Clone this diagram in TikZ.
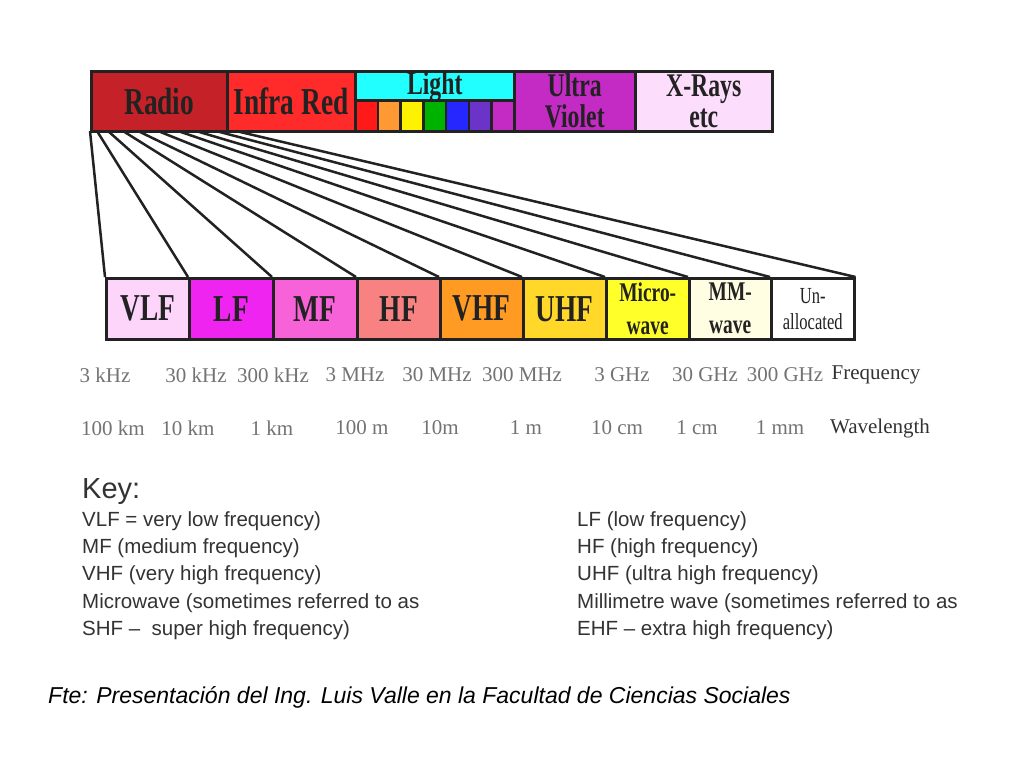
\documentclass[tikz,border=0pt]{standalone}
\usepackage{fontspec}
\setmainfont{Liberation Serif}
\newfontfamily\barfont[FakeStretch=0.72]{Liberation Serif}
\newfontfamily\keyfont{Liberation Sans}
\newfontfamily\scalefont{Liberation Serif}
\usepackage{xcolor}

\definecolor{radioc}{HTML}{C42228}
\definecolor{irc}{HTML}{FF2A2A}
\definecolor{lightc}{HTML}{22FFFF}
\definecolor{uvc}{HTML}{C42AC4}
\definecolor{xrayc}{HTML}{FCDDFC}
\definecolor{vlfc}{HTML}{FDD4FA}
\definecolor{lfc}{HTML}{F024F0}
\definecolor{mfc}{HTML}{F862D8}
\definecolor{hfc}{HTML}{F88282}
\definecolor{vhfc}{HTML}{FF9A22}
\definecolor{uhfc}{HTML}{FFD82A}
\definecolor{microc}{HTML}{FFFF2A}
\definecolor{mmc}{HTML}{FFFDE2}
\definecolor{inkc}{HTML}{222222}

\tikzset{
  band/.style={draw=inkc, line width=2.5pt, inner sep=0pt, anchor=north west,
    text=inkc, align=center, font=\barfont\bfseries\fontsize{38}{32}\selectfont},
  twoline/.style={font=\barfont\bfseries\fontsize{33}{31}\selectfont},
  small/.style={font=\barfont\bfseries\fontsize{27}{33}\selectfont},
  fan/.style={draw=inkc, line width=2.5pt},
  scaletxt/.style={text=black!55, font=\scalefont\fontsize{21}{21}\selectfont},
  keytxt/.style={anchor=west, inner sep=0pt, text=black!80, font=\keyfont\fontsize{20.5}{20.5}\selectfont}
}

\begin{document}
\begin{tikzpicture}[x=1pt,y=-1pt]
    \useasboundingbox[fill=white] (0,0) rectangle (1024,768);

    % upper spectrum bar
    \node[band, fill=radioc, minimum width=136, minimum height=60] (radio) at (90,70) {Radio};
    \node[band, fill=irc, minimum width=128, minimum height=60] (infra) at (226,70) {Infra Red};
    \node[band, fill=lightc, minimum width=159, minimum height=29, twoline] (light) at (354,70) {Light};
    \foreach \col [count=\i from 0] in {red!90,orange!80,yellow,green!70!black,blue!85,blue!45!violet!80,uvc}
      \node[band, fill=\col, minimum width=22.7, minimum height=31] (rb\i) at (354+\i*22.7,99) {};
    \node[band, twoline, fill=uvc, minimum width=121, minimum height=60] (uv) at (513,70) {Ultra\\Violet};
    \node[band, twoline, fill=xrayc, minimum width=137, minimum height=60] (xray) at (634,70) {X-Rays\\etc};

    % lower radio bands
    \node[band, fill=vlfc, minimum width=83, minimum height=61] (vlf) at (105,277) {VLF};
    \node[band, fill=lfc, minimum width=84, minimum height=61] (lf) at (188,277) {LF};
    \node[band, fill=mfc, minimum width=84, minimum height=61] (mf) at (272,277) {MF};
    \node[band, fill=hfc, minimum width=83, minimum height=61] (hf) at (356,277) {HF};
    \node[band, fill=vhfc, minimum width=83, minimum height=61] (vhf) at (439,277) {VHF};
    \node[band, fill=uhfc, minimum width=83, minimum height=61] (uhf) at (522,277) {UHF};
    \node[band, small, fill=microc, minimum width=83, minimum height=61] (micro) at (605,277) {Micro-\\wave};
    \node[band, small, fill=mmc, minimum width=82, minimum height=61] (mm) at (688,277) {MM-\\wave};
    \node[band, fill=white, minimum width=83, minimum height=61,
      font=\barfont\fontsize{23}{26}\selectfont] (unal) at (770,277) {Un-\\allocated};

    % fan from Radio to the bands
    \foreach \tx [count=\i] in {90,97,108,123,138,158,178,196,216,236}
      \coordinate (t\i) at (\tx,131);
    \draw[fan] (t1) -- (vlf.north west);
    \draw[fan] (t2) -- (lf.north west);
    \draw[fan] (t3) -- (mf.north west);
    \draw[fan] (t4) -- (hf.north west);
    \draw[fan] (t5) -- (vhf.north west);
    \draw[fan] (t6) -- (uhf.north west);
    \draw[fan] (t7) -- (micro.north west);
    \draw[fan] (t8) -- (mm.north west);
    \draw[fan] (t9) -- (unal.north west);
    \draw[fan] (t10) -- (unal.north east);

    % frequency and wavelength rows
    \foreach \x/\t [count=\i] in {105/3 kHz,196/30 kHz,273/300 kHz,355/3 MHz,437/30 MHz,522/300 MHz,622/3 GHz,705/30 GHz,785/300 GHz}
      \node[scaletxt] (f\i) at (\x,375) {\t};
    \node[scaletxt, text=black!80] (freq) at (876,375) {Frequency};
    \foreach \x/\t [count=\i] in {113/100 km,188/10 km,272/1 km,362/100 m,440/10m,526/1 m,617/10 cm,697/1 cm,780/1 mm}
      \node[scaletxt] (w\i) at (\x,428) {\t};
    \node[scaletxt, text=black!80] (wave) at (880,428) {Wavelength};

    % key
    \node[keytxt, font=\keyfont\fontsize{29}{29}\selectfont] (key) at (82,492) {Key:};
    \node[keytxt] (k1) at (82,521) {VLF = very low frequency)};
    \node[keytxt] (k2) at (82,548) {MF (medium frequency)};
    \node[keytxt] (k3) at (82,575) {VHF (very high frequency)};
    \node[keytxt] (k4) at (82,603) {Microwave (sometimes referred to as};
    \node[keytxt] (k5) at (82,630) {SHF –\ \ super high frequency)};
    \node[keytxt] (k6) at (577,521) {LF (low frequency)};
    \node[keytxt] (k7) at (577,548) {HF (high frequency)};
    \node[keytxt] (k8) at (577,575) {UHF (ultra high frequency)};
    \node[keytxt] (k9) at (577,603) {Millimetre wave (sometimes referred to as};
    \node[keytxt] (k10) at (577,630) {EHF – extra high frequency)};

    \node[keytxt, text=black, font=\keyfont\itshape\fontsize{23}{23}\selectfont] (src) at (48,697)
      {Fte: Presentación del Ing. Luis Valle en la Facultad de Ciencias Sociales};
\end{tikzpicture}
\end{document}
